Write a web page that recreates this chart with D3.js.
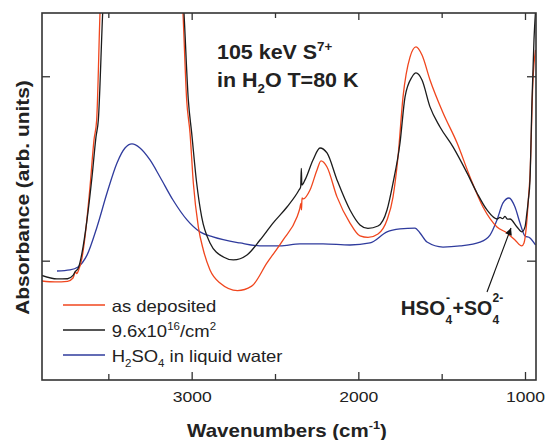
<!DOCTYPE html>
<html>
<head>
<meta charset="utf-8">
<script src="https://cdn.jsdelivr.net/npm/d3@7"></script>
<style>
  body { margin: 0; background: #fff; }
  text { font-family: "Liberation Sans", Arial, Helvetica, sans-serif; fill: #222; }
</style>
</head>
<body>
<div class="chart"></div>
<script>
// [wavenumber cm-1, absorbance arb. units]
var asDeposited = [
  [3900, -0.11], [3820, -0.115], [3745, -0.112], [3712, -0.094], [3697, -0.06], [3690, -0.07],
  [3680, -0.055], [3658, 0.015], [3640, 0.129], [3610, 0.40], [3586, 0.655], [3570, 0.763],
  [3550, 1.343], [3500, 2.2], [3400, 2.6], [3300, 2.7], [3200, 2.6], [3100, 2.2], [3052, 1.343],
  [3030, 0.871], [3010, 0.693], [2990, 0.421], [2960, 0.183], [2930, 0.058], [2890, -0.05],
  [2830, -0.121], [2725, -0.162], [2640, -0.138], [2548, -0.012], [2452, 0.112], [2368, 0.237],
  [2352, 0.28], [2344, 0.31], [2341, 0.275], [2338, 0.34], [2330, 0.335], [2290, 0.383],
  [2248, 0.492], [2224, 0.541], [2188, 0.508], [2128, 0.346], [2050, 0.204], [1990, 0.134],
  [1942, 0.126], [1882, 0.145], [1828, 0.221], [1792, 0.345], [1762, 0.562], [1732, 0.887],
  [1690, 1.104], [1654, 1.159], [1618, 1.115], [1570, 0.98], [1492, 0.802], [1408, 0.639],
  [1330, 0.454], [1252, 0.291], [1168, 0.183], [1108, 0.15], [1060, 0.112], [1020, 0.08],
  [1006, 0.096], [990, 0.204], [980, 0.329], [970, 0.465], [952, 0.98], [937, 1.143]
];

var irradiated = [
  [3900, -0.08], [3808, -0.099], [3745, -0.098], [3712, -0.08], [3700, -0.061], [3680, -0.04],
  [3658, 0.042], [3628, 0.221], [3598, 0.454], [3574, 0.671], [3560, 0.763], [3534, 1.343],
  [3480, 2.2], [3400, 2.6], [3300, 2.7], [3200, 2.6], [3100, 2.1], [3046, 1.343], [3020, 0.871],
  [3000, 0.693], [2970, 0.421], [2940, 0.237], [2890, 0.096], [2810, 0.02], [2750, 0.004],
  [2668, 0.031], [2590, 0.112], [2512, 0.204], [2428, 0.291], [2356, 0.383], [2346, 0.40],
  [2342, 0.50], [2339, 0.41], [2320, 0.438], [2272, 0.546], [2230, 0.611], [2188, 0.584],
  [2128, 0.438], [2050, 0.275], [1990, 0.194], [1942, 0.175], [1882, 0.188], [1828, 0.275],
  [1792, 0.421], [1750, 0.638], [1720, 0.887], [1678, 0.996], [1654, 1.018], [1618, 0.98],
  [1570, 0.834], [1510, 0.725], [1432, 0.617], [1348, 0.476], [1288, 0.367], [1228, 0.275],
  [1168, 0.226], [1150, 0.235], [1135, 0.228], [1120, 0.24], [1105, 0.225], [1090, 0.226],
  [1048, 0.183], [1018, 0.156], [1000, 0.183], [990, 0.248], [980, 0.329], [970, 0.438],
  [958, 0.87], [946, 1.2], [937, 1.35]
];

var h2so4 = [
  [3808, -0.056], [3730, -0.05], [3682, -0.034], [3628, 0.03], [3568, 0.183], [3508, 0.367],
  [3448, 0.53], [3400, 0.611], [3358, 0.633], [3310, 0.611], [3250, 0.546], [3190, 0.454],
  [3112, 0.329], [3028, 0.221], [2950, 0.156], [2872, 0.129], [2710, 0.096], [2590, 0.08],
  [2470, 0.08], [2350, 0.091], [2212, 0.091], [2050, 0.085], [1930, 0.096], [1828, 0.156],
  [1750, 0.172], [1660, 0.177], [1630, 0.15], [1588, 0.101], [1492, 0.074], [1390, 0.08],
  [1270, 0.101], [1210, 0.139], [1168, 0.221], [1132, 0.313], [1096, 0.34], [1060, 0.291],
  [1030, 0.204], [1000, 0.134], [970, 0.123], [937, 0.085]
];

var xTicks = [3000, 2000, 1000];
var xMinorTicks = [3500, 2500, 1500];
var yTicks = [0, 1];
var seriesNames = ['as deposited', '9.6x10^{16}/cm^{2}', 'H_{2}SO_{4} in liquid water'];
var seriesColors = ['#f0461e', '#1c1c1c', '#2f3b9d'];

var W = 547, H = 440;
var mLeft = 42, mTop = 13, mRight = 536, mBottom = 380;

var svg = d3.select('.chart')
  .append('svg')
    .attr('width', W)
    .attr('height', H);

var x = d3.scaleLinear().domain([3898, 934]).range([mLeft, mRight]);
var y = d3.scaleLinear().domain([-0.647, 1.343]).range([mBottom, mTop]);

// text helper: parts with ^{sup} and _{sub}; sx widens text along its baseline
function addText(px, py, str, size, opts) {
  opts = opts || {};
  var t = svg.append('text')
    .attr('transform', 'translate(' + px + ',' + py + ')' +
      (opts.rotate ? ' rotate(' + opts.rotate + ')' : '') +
      ' scale(' + (opts.sx || 1) + ',1)')
    .attr('text-anchor', opts.anchor || 'start')
    .style('font-size', size + 'px')
    .style('font-weight', opts.bold ? 'bold' : 'normal');
  var shift = 0;
  str.split(/(\^\{[^}]*\}|_\{[^}]*\})/).forEach(function (p) {
    if (!p) return;
    var kind = p[0] === '^' ? 'sup' : p[0] === '_' ? 'sub' : '';
    var txt = kind ? p.slice(2, -1) : p;
    var target = kind === 'sup' ? -size * 0.42 : kind === 'sub' ? size * 0.32 : 0;
    var ts = t.append('tspan').text(txt).attr('dy', target - shift);
    if (kind) ts.style('font-size', (size * 0.62) + 'px');
    shift = target;
  });
  return t;
}

svg.append('clipPath').attr('id', 'plot')
  .append('rect')
    .attr('x', mLeft).attr('y', mTop)
    .attr('width', mRight - mLeft).attr('height', mBottom - mTop);

var line = d3.line()
  .x(d => x(d[0]))
  .y(d => y(d[1]))
  .curve(d3.curveMonotoneX);

svg.append('g')
  .attr('clip-path', 'url(#plot)')
  .selectAll('path')
  .data([h2so4, asDeposited, irradiated])
  .enter()
    .append('path')
    .attr('d', line)
    .attr('fill', 'none')
    .attr('stroke', (d, i) => [seriesColors[2], seriesColors[0], seriesColors[1]][i])
    .attr('stroke-width', 1.3);

// axes, ticks pointing inward
var bottomAxis = svg.append('g')
  .attr('transform', 'translate(0,' + mBottom + ')')
  .call(d3.axisBottom(x).tickValues(xTicks).tickFormat(d3.format('d'))
    .tickSize(-8).tickSizeOuter(0).tickPadding(11));
bottomAxis.selectAll('text')
  .attr('transform', 'scale(1.14,1)')
  .style('font-size', '15.4px')
  .style('font-family', '"Liberation Sans", Arial, sans-serif')
  .attr('fill', '#222');

svg.append('g')
  .attr('transform', 'translate(0,' + mBottom + ')')
  .call(d3.axisBottom(x).tickValues(xMinorTicks).tickSize(-6).tickSizeOuter(0).tickFormat(''));
svg.append('g')
  .attr('transform', 'translate(0,' + mTop + ')')
  .call(d3.axisTop(x).tickValues(xTicks).tickSize(-7).tickSizeOuter(0).tickFormat(''));
svg.append('g')
  .attr('transform', 'translate(0,' + mTop + ')')
  .call(d3.axisTop(x).tickValues(xMinorTicks).tickSize(-5).tickSizeOuter(0).tickFormat(''));
svg.append('g')
  .attr('transform', 'translate(' + mLeft + ',0)')
  .call(d3.axisLeft(y).tickValues(yTicks).tickSize(-8).tickSizeOuter(0).tickFormat(''));
svg.append('g')
  .attr('transform', 'translate(' + mRight + ',0)')
  .call(d3.axisRight(y).tickValues(yTicks).tickSize(-9).tickSizeOuter(0).tickFormat(''));

svg.selectAll('.domain').remove();
svg.selectAll('.tick line').attr('stroke', '#333').attr('stroke-width', 1.3);

svg.append('rect')
  .attr('x', mLeft).attr('y', mTop)
  .attr('width', mRight - mLeft).attr('height', mBottom - mTop)
  .attr('fill', 'none')
  .attr('stroke', '#333')
  .attr('stroke-width', 1.6);

// axis titles
addText(287, 437, 'Wavenumbers (cm^{-1})', 18, { bold: true, anchor: 'middle', sx: 1.14 });
addText(28.5, 197.5, 'Absorbance (arb. units)', 19, { bold: true, anchor: 'middle', rotate: -90, sx: 1.1 });

// annotations
addText(217, 59, '105 keV S^{7+}', 19.5, { bold: true, sx: 1.1 });
addText(217, 87, 'in H_{2}O T=80 K', 19.5, { bold: true, sx: 1.1 });

addText(400.7, 315, 'HSO', 20.5, { bold: true });
addText(445.5, 324, '4', 12, { bold: true });
addText(446, 302, '-', 12, { bold: true });
addText(452.5, 315, '+SO', 19.5, { bold: true });
addText(492.5, 324, '4', 12, { bold: true });
addText(492.5, 302, '2-', 12, { bold: true });

svg.append('defs').append('marker')
  .attr('id', 'head')
  .attr('viewBox', '0 0 10 10')
  .attr('refX', 10).attr('refY', 5)
  .attr('markerWidth', 10).attr('markerHeight', 7)
  .attr('markerUnits', 'userSpaceOnUse')
  .attr('orient', 'auto')
  .append('path')
    .attr('d', 'M0,0L10,5L0,10z')
    .attr('fill', '#111');

svg.append('line')
  .attr('x1', 487).attr('y1', 292)
  .attr('x2', 511).attr('y2', 228)
  .attr('stroke', '#111')
  .attr('stroke-width', 1.1)
  .attr('marker-end', 'url(#head)');

// legend
var legend = svg.selectAll('.legend')
  .data(seriesNames)
  .enter()
    .append('g')
    .attr('class', 'legend');

legend.append('line')
  .attr('x1', 63).attr('x2', 105)
  .attr('y1', (d, i) => 305 + i * 25)
  .attr('y2', (d, i) => 305 + i * 25)
  .attr('stroke', (d, i) => seriesColors[i])
  .attr('stroke-width', 1.3);

seriesNames.forEach(function (name, i) {
  addText(111.7, 311.5 + i * 25, name, 16.5, { sx: 1.12 });
});
</script>
</body>
</html>
